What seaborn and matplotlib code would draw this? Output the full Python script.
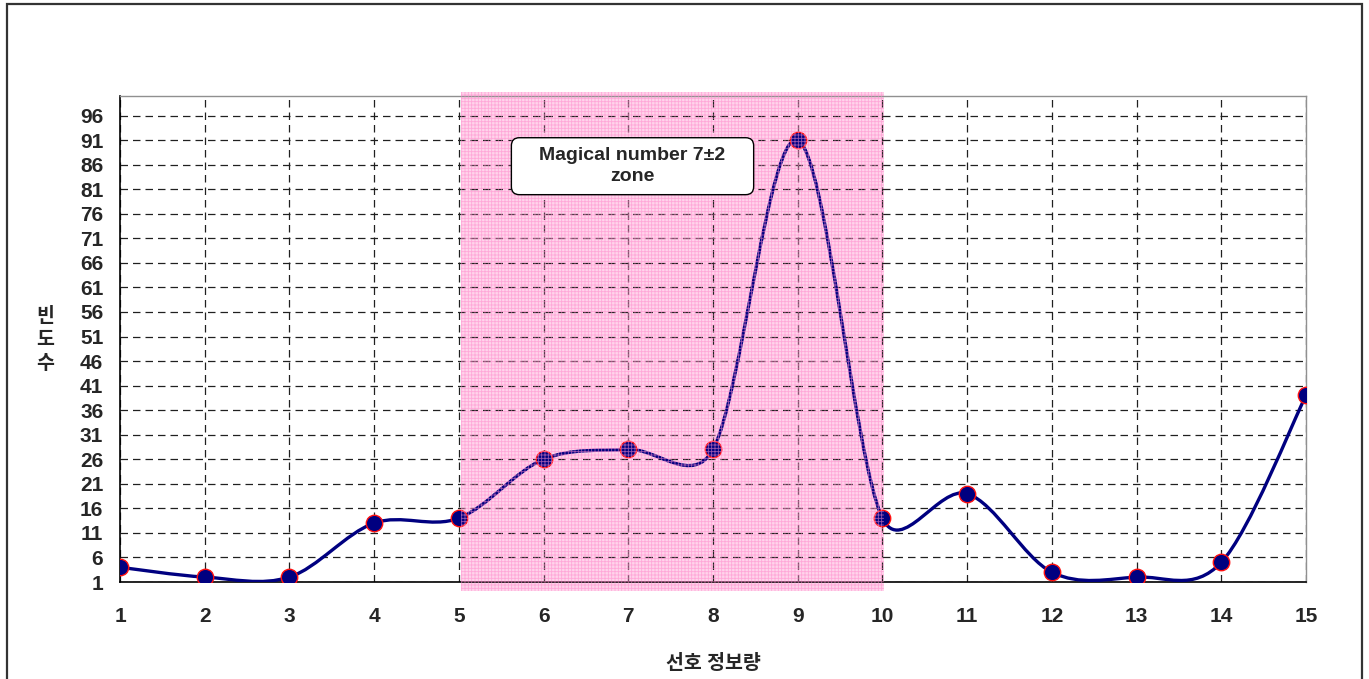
import numpy as np
import matplotlib
matplotlib.use('Agg')
import matplotlib.pyplot as plt
from matplotlib.path import Path
from matplotlib.patches import PathPatch, Rectangle, FancyBboxPatch
import seaborn as sns
import pandas as pd

# data
x_vals = [1, 2, 3, 4, 5, 6, 7, 8, 9, 10, 11, 12, 13, 14, 15]
counts = [4, 2, 2, 13, 14, 26, 28, 28, 91, 14, 19, 3, 2, 5, 39]
y_ticks = list(range(1, 97, 5))
zone = (5, 10)
zone_label = 'Magical number 7±2\nzone'
x_label = '선호 정보량'
y_label = '빈\n도\n수'

sns.set_style('white')
plt.rcParams['font.family'] = ['Liberation Sans', 'Noto Sans CJK KR', 'DejaVu Sans']
plt.rcParams['hatch.linewidth'] = 0.6

df = pd.DataFrame({'x': x_vals, 'y': counts})

fig = plt.figure(figsize=(13.69, 6.79), dpi=100)
ax = fig.add_axes([120 / 1369, 1 - 582 / 679, (1306 - 120) / 1369, (582 - 96) / 679])
ax.set_xlim(1, 15)
ax.set_ylim(1, 100)

# smoothed line (bezier through the points, arms capped like Excel's smoothing)
pts = df[['x', 'y']].to_numpy(dtype=float)
to_px = ax.transData.transform
inv = ax.transData.inverted().transform
spts = to_px(pts)
n = len(spts)


def arm(i, j):
    # control arm at point i pointing toward neighbour j
    p_prev = spts[max(i - 1, 0)]
    p_next = spts[min(i + 1, n - 1)]
    t = (p_next - p_prev) / 6.0
    if j < i:
        t = -t
    seg = np.hypot(*(spts[j] - spts[i]))
    ln = np.hypot(*t)
    if ln > 0.5 * seg and ln > 0:
        t = t * 0.5 * seg / ln
    return spts[i] + t


verts = [spts[0]]
codes = [Path.MOVETO]
for i in range(n - 1):
    verts += [arm(i, i + 1), arm(i + 1, i), spts[i + 1]]
    codes += [Path.CURVE4] * 3
curve = Path(inv(np.array(verts)), codes)
ax.add_patch(PathPatch(curve, facecolor='none', edgecolor='#000080',
                       lw=2.4, zorder=3, capstyle='round', joinstyle='round'))

sns.scatterplot(data=df, x='x', y='y', ax=ax, s=140, color='#000080',
                edgecolor='#ff1010', linewidth=1.0, zorder=4, legend=False)

# magical number zone: light fill below, pink grid pattern on top
zx, zw = zone[0] + 0.03, zone[1] - zone[0] - 0.01
ax.add_patch(Rectangle((zx, -0.85), zw, 101.6, facecolor='#ffd4eb', lw=0,
                       zorder=0.2, clip_on=False))
ax.add_patch(Rectangle((zx, -0.85), zw, 101.6, facecolor='none',
                       edgecolor=(1.0, 0.55, 0.80, 0.6), hatch='+++++',
                       lw=0, zorder=5, clip_on=False))

# label box (rounded corners kept round in pixels)
px_x = (to_px((2, 0)) - to_px((1, 0)))[0]
px_y = (to_px((0, 2)) - to_px((0, 1)))[1]
box = FancyBboxPatch((5.62, 79.9), 2.86, 11.6,
                     boxstyle='round,pad=0,rounding_size=%f' % (8 / px_x),
                     mutation_aspect=px_x / px_y, fc='white', ec='black',
                     lw=1.0, zorder=6)
ax.add_patch(box)
ax.text(7.05, 85.7, zone_label, ha='center', va='center', fontsize=14,
        fontweight='bold', zorder=7, linespacing=1.3)

ax.set_xticks(x_vals)
ax.set_yticks(y_ticks)
ax.set_xticklabels([str(v) for v in x_vals], fontsize=15, fontweight='bold')
ax.set_yticklabels([str(v) for v in y_ticks], fontsize=15, fontweight='bold')
ax.tick_params(axis='x', length=0, pad=18)
ax.tick_params(axis='y', length=0, pad=12)
ax.grid(True, color='#202020', linestyle=(0, (6, 4)), lw=0.9)
ax.set_axisbelow(True)

ax.set_xlabel(x_label, fontsize=14, fontweight='bold', labelpad=20)
ax.set_ylabel('')
fig.text(45 / 1369, 1 - 340 / 679, y_label, ha='center', va='center',
         fontsize=14, fontweight='bold', linespacing=1.45)

for side in ['left', 'bottom']:
    ax.spines[side].set_color('black')
    ax.spines[side].set_linewidth(1.2)
for side in ['top', 'right']:
    ax.spines[side].set_color('#909090')
    ax.spines[side].set_linewidth(1.0)

# outer frame
fig.patches.append(Rectangle((7 / 1369, -0.05), (1362 - 7) / 1369, 1.05 - 4 / 679,
                             transform=fig.transFigure, fill=False,
                             ec='#333333', lw=1.6))

fig.savefig('out.png', dpi=100)
